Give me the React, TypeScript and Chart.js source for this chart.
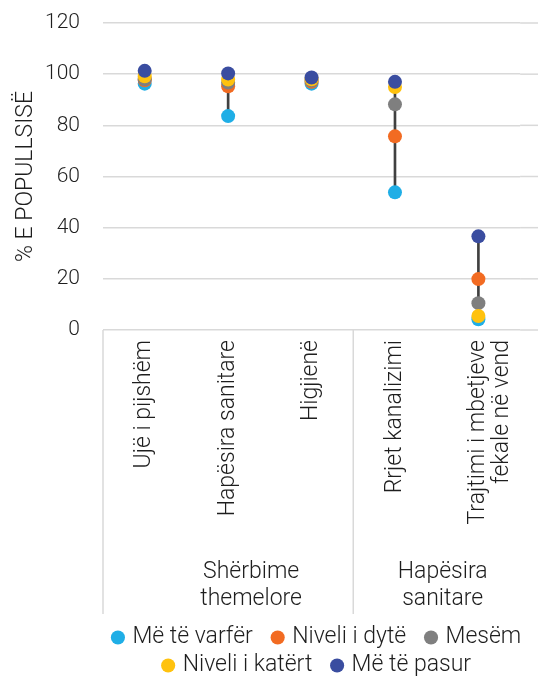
import React, { useEffect, useRef } from 'react';
import { Chart, registerables } from 'chart.js';

Chart.register(...registerables);

const categories: string[][] = [
  ['Ujë i pijshëm'],
  ['Hapësira sanitare'],
  ['Higjienë'],
  ['Rrjet kanalizimi'],
  ['Trajtimi i mbetjeve', 'fekale në vend'],
];
const groupLabels: string[][] = [['Shërbime', 'themelore'], ['Hapësira', 'sanitare']];
const groupSpans: number[][] = [[0, 2], [3, 4]];
const groupNudge: number[] = [23, 6];

const seriesNames = ['Më të varfër', 'Niveli i dytë', 'Mesëm', 'Niveli i katërt', 'Më të pasur'];
const seriesColors = ['#1FAEE6', '#F26B22', '#7F7F7F', '#FFC20E', '#3A4DA0'];
const poorest = [96.3, 83.6, 96.3, 53.8, 4.2];
const second = [97.6, 95.3, 97.0, 75.7, 19.9];
const middle = [98.0, 96.7, 97.5, 88.2, 10.5];
const fourth = [99.2, 97.9, 98.0, 95.0, 5.5];
const richest = [101.3, 100.3, 98.7, 97.0, 36.6];
const yTicks = [0, 20, 40, 60, 80, 100, 120];

const FONT = 'Roboto';
const W = '300' as any;
const TEXT = '#1e1e1e';

export default function App() {
  const ref = useRef<HTMLCanvasElement | null>(null);
  useEffect(() => {
    if (!ref.current) return;
    const all = [poorest, second, middle, fourth, richest];
    const ranges = categories.map((_, i) => {
      const vals = all.map((s) => s[i]);
      return [Math.min(...vals), Math.max(...vals)];
    });

    const decor = {
      id: 'decor',
      beforeDatasetsDraw(chart: any) {
        const { ctx, chartArea, scales } = chart;
        const y = scales.y;
        ctx.save();
        ctx.strokeStyle = '#D9D9D9';
        ctx.lineWidth = 1.5;
        yTicks.forEach((t) => {
          const py = y.getPixelForValue(t);
          ctx.beginPath();
          ctx.moveTo(chartArea.right, py);
          ctx.lineTo(chart.width, py);
          ctx.stroke();
        });
        ctx.restore();
      },
      beforeDraw(chart: any) {
        const lg = chart.legend;
        if (lg) {
          lg.left = chart.chartArea.left;
          lg.right = chart.width + 12;
          lg.top = lg.top + 2;
          lg.bottom = lg.bottom + 2;
        }
      },
      afterDraw(chart: any) {
        const { ctx, chartArea, scales } = chart;
        const x = scales.x;
        const half = (x.getPixelForValue(1) - x.getPixelForValue(0)) / 2;
        ctx.save();
        ctx.strokeStyle = '#D9D9D9';
        ctx.lineWidth = 1.5;
        const bounds = [x.getPixelForValue(0) - half, x.getPixelForValue(2) + half];
        bounds.forEach((bx) => {
          ctx.beginPath();
          ctx.moveTo(bx, chartArea.bottom);
          ctx.lineTo(bx, chartArea.bottom + 284);
          ctx.stroke();
        });
        ctx.fillStyle = TEXT;
        ctx.font = `300 23px ${FONT}`;
        ctx.textAlign = 'center';
        ctx.textBaseline = 'middle';
        groupLabels.forEach((lines, g) => {
          const [a, b] = groupSpans[g];
          const cx = (x.getPixelForValue(a) + x.getPixelForValue(b)) / 2 + groupNudge[g];
          lines.forEach((ln, k) => {
            ctx.fillText(ln, cx, chartArea.bottom + 242 + k * 27);
          });
        });
        ctx.restore();
      },
    };

    const pointSets = [poorest, second, middle, fourth, richest].map((data, i) => ({
      type: 'line' as const,
      label: seriesNames[i],
      data,
      showLine: false,
      pointRadius: 7,
      pointHoverRadius: 7,
      pointBorderWidth: 0,
      pointStyle: 'circle',
      backgroundColor: seriesColors[i],
      borderColor: seriesColors[i],
      order: 5 - i,
    }));

    const baseLabels = Chart.defaults.plugins.legend.labels.generateLabels;

    const chart = new Chart(ref.current, {
      type: 'line',
      data: {
        labels: categories,
        datasets: [
          ...pointSets,
          {
            type: 'bar' as const,
            label: 'range',
            data: ranges as any,
            backgroundColor: '#404040',
            barThickness: 2,
            order: 10,
          } as any,
        ],
      },
      options: {
        animation: false,
        responsive: false,
        layout: { padding: { top: 23, right: 13, left: 0, bottom: 0 } },
        plugins: {
          tooltip: { enabled: false },
          legend: {
            position: 'bottom',
            labels: {
              usePointStyle: true,
              boxWidth: 6,
              boxHeight: 10,
              padding: 5,
              color: TEXT,
              font: { family: FONT, size: 23, weight: W },
              generateLabels: (c: any) =>
                baseLabels(c).map((l: any) => ({ ...l, text: l.text + '   ' })),
              filter: (item: any) => item.datasetIndex < 5,
              sort: (a: any, b: any) => a.datasetIndex - b.datasetIndex,
            },
          },
        },
        scales: {
          x: {
            type: 'category',
            offset: true,
            grid: { display: false, drawTicks: false },
            border: { display: false },
            ticks: {
              minRotation: 90,
              maxRotation: 90,
              autoSkip: false,
              padding: 10,
              color: TEXT,
              font: { family: FONT, size: 23, weight: W, lineHeight: 1.05 },
            },
            afterFit: (s: any) => {
              s.height = 289;
            },
          },
          y: {
            min: 0,
            max: 120,
            ticks: {
              stepSize: 20,
              padding: 0,
              color: TEXT,
              font: { family: FONT, size: 21, weight: W },
            },
            grid: {
              color: '#D9D9D9',
              lineWidth: 1.5,
              drawTicks: true,
              tickLength: 23,
              tickColor: 'rgba(0,0,0,0)',
            },
            border: { display: false },
            title: {
              display: true,
              text: '% E POPULLSISË',
              color: TEXT,
              padding: { top: 12, bottom: 0 },
              font: { family: FONT, size: 23, weight: W },
            },
            afterFit: (s: any) => {
              s.width = 103;
            },
          },
        },
      },
      plugins: [decor],
    });
    return () => chart.destroy();
  }, []);

  return (
    <div style={{ position: 'absolute', left: 0, top: 0, width: 538, height: 685, background: '#fff' }}>
      <canvas ref={ref} width={538} height={685} />
    </div>
  );
}
